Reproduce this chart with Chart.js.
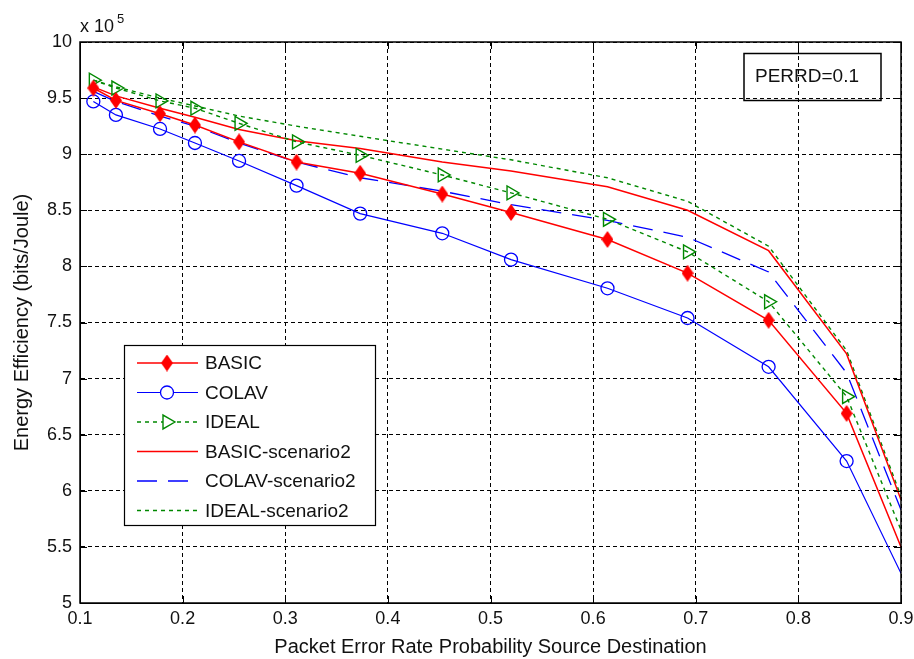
<!DOCTYPE html>
<html>
<head>
<meta charset="utf-8">
<title>Energy Efficiency vs PER</title>
<script src="https://cdn.jsdelivr.net/npm/chart.js@4.4.1/dist/chart.umd.min.js"></script>
<style>
  html, body { margin: 0; padding: 0; background: #fff; }
  #wrap { width: 914px; height: 659px; }
</style>
</head>
<body>
<div id="wrap"><canvas id="effChart" width="914" height="659"></canvas></div>
<script>
// packet error rate (x) and energy efficiency (units of 1e5 bits/Joule)
const perValues = [0.113, 0.135, 0.178, 0.212, 0.255, 0.311, 0.373, 0.453, 0.520, 0.614, 0.692, 0.771, 0.847, 0.9];

const basic = [9.59, 9.48, 9.36, 9.26, 9.11, 8.93, 8.83, 8.645, 8.48, 8.24, 7.94, 7.52, 6.69, 5.50];
const colav = [9.47, 9.35, 9.225, 9.10, 8.94, 8.72, 8.47, 8.295, 8.06, 7.805, 7.54, 7.105, 6.265, 5.265];
const ideal = [9.66, 9.59, 9.475, 9.41, 9.275, 9.11, 8.99, 8.815, 8.655, 8.42, 8.13, 7.685, 6.84, 5.65];
const basicS2 = [9.60, 9.52, 9.41, 9.33, 9.22, 9.12, 9.05, 8.93, 8.85, 8.71, 8.50, 8.14, 7.22, 5.92];
const colavS2 = [9.56, 9.47, 9.34, 9.25, 9.10, 8.93, 8.79, 8.67, 8.55, 8.41, 8.26, 7.95, 7.05, 5.83];
const idealS2 = [9.66, 9.60, 9.50, 9.43, 9.34, 9.25, 9.16, 9.045, 8.95, 8.79, 8.58, 8.18, 7.25, 5.95];

const seriesNames = ["BASIC", "COLAV", "IDEAL", "BASIC-scenario2", "COLAV-scenario2", "IDEAL-scenario2"];
const xTicks = [0.1, 0.2, 0.3, 0.4, 0.5, 0.6, 0.7, 0.8, 0.9];
const yTicks = [5, 5.5, 6, 6.5, 7, 7.5, 8, 8.5, 9, 9.5, 10];
const boxNote = "PERRD=0.1";

const FONT = "'Liberation Sans', Arial, sans-serif";
const RED = "#ff0000", BLUE = "#0000ff", GREEN = "#008800";

function toPoints(ys) {
    return perValues.map((x, i) => ({ x: x, y: ys[i] }));
}

function makeDiamond(w, h, color) {
    const c = document.createElement("canvas");
    c.width = w; c.height = h;
    const g = c.getContext("2d");
    g.fillStyle = color;
    g.beginPath();
    g.moveTo(w / 2, 0); g.lineTo(w, h / 2); g.lineTo(w / 2, h); g.lineTo(0, h / 2);
    g.closePath(); g.fill();
    return c;
}

const diamond = makeDiamond(12, 17, RED);
const lastIdx = perValues.length - 1;
const markerSize = r => (ctx => ctx.dataIndex === lastIdx ? 0 : r);

const datasets = [
    { label: seriesNames[0], data: toPoints(basic), borderColor: RED, borderWidth: 1.5,
      pointStyle: diamond, pointRadius: markerSize(6), pointBackgroundColor: RED, pointBorderColor: RED },
    { label: seriesNames[1], data: toPoints(colav), borderColor: BLUE, borderWidth: 1.2,
      pointStyle: "circle", pointRadius: markerSize(6.5), pointBackgroundColor: "rgba(0,0,0,0)", pointBorderColor: BLUE, pointBorderWidth: 1.3 },
    { label: seriesNames[2], data: toPoints(ideal), borderColor: GREEN, borderWidth: 1.4, borderDash: [4, 4],
      pointStyle: "triangle", pointRotation: 90, pointRadius: markerSize(8), pointBackgroundColor: "rgba(0,0,0,0)", pointBorderColor: GREEN, pointBorderWidth: 1.4 },
    { label: seriesNames[3], data: toPoints(basicS2), borderColor: RED, borderWidth: 1.5, pointRadius: 0 },
    { label: seriesNames[4], data: toPoints(colavS2), borderColor: BLUE, borderWidth: 1.3, borderDash: [20, 11], pointRadius: 0 },
    { label: seriesNames[5], data: toPoints(idealS2), borderColor: GREEN, borderWidth: 1.4, borderDash: [4, 4], pointRadius: 0 }
];

// axes box, inward ticks, exponent, legend box and note box
const decorPlugin = {
    id: "decor",
    afterDatasetsDraw(chart) {
        const ctx = chart.ctx;
        const a = chart.chartArea;
        const xs = chart.scales.x, ys = chart.scales.y;
        ctx.save();
        ctx.setLineDash([]);
        ctx.strokeStyle = "#000";
        ctx.lineWidth = 1;

        // ticks
        ctx.beginPath();
        xTicks.forEach(v => {
            const px = Math.round(xs.getPixelForValue(v)) + 0.5;
            ctx.moveTo(px, a.bottom); ctx.lineTo(px, a.bottom - 7);
            ctx.moveTo(px, a.top); ctx.lineTo(px, a.top + 7);
        });
        yTicks.forEach(v => {
            const py = Math.round(ys.getPixelForValue(v)) + 0.5;
            ctx.moveTo(a.left, py); ctx.lineTo(a.left + 7, py);
            ctx.moveTo(a.right, py); ctx.lineTo(a.right - 7, py);
        });
        ctx.stroke();

        // frame
        ctx.lineWidth = 1.5;
        ctx.strokeRect(a.left, a.top, a.right - a.left, a.bottom - a.top);

        // exponent
        ctx.fillStyle = "#111";
        ctx.textBaseline = "alphabetic";
        ctx.textAlign = "left";
        ctx.font = "18px " + FONT;
        ctx.fillText("x 10", 80, 32);
        ctx.font = "13px " + FONT;
        ctx.fillText("5", 117, 23);

        // note box
        ctx.lineWidth = 1.5;
        ctx.strokeRect(744, 53.5, 137, 47);
        ctx.font = "19px " + FONT;
        ctx.textBaseline = "middle";
        ctx.fillText(boxNote, 755, 77);

        // legend
        const lx = 124, ly = 345, lw = 251, lh = 180;
        ctx.fillStyle = "#fff";
        ctx.fillRect(lx, ly, lw, lh);
        ctx.lineWidth = 1.2;
        ctx.strokeRect(lx + 0.5, ly + 0.5, lw, lh);
        chart.data.datasets.forEach((ds, i) => {
            const y = 363 + i * 29.5;
            ctx.strokeStyle = ds.borderColor;
            ctx.lineWidth = ds.borderWidth;
            ctx.setLineDash(ds.borderDash || []);
            ctx.beginPath();
            ctx.moveTo(137, y); ctx.lineTo(198, y);
            ctx.stroke();
            ctx.setLineDash([]);
            const mx = 167;
            if (ds.pointStyle === diamond) {
                ctx.drawImage(diamond, mx - diamond.width / 2, y - diamond.height / 2);
            } else if (ds.pointStyle === "circle") {
                ctx.fillStyle = "#fff";
                ctx.lineWidth = 1.3;
                ctx.beginPath(); ctx.arc(mx, y, 6.5, 0, Math.PI * 2); ctx.fill(); ctx.stroke();
            } else if (ds.pointStyle === "triangle") {
                const r = 8;
                ctx.fillStyle = "#fff";
                ctx.lineWidth = 1.4;
                ctx.beginPath();
                ctx.moveTo(mx + r, y);
                ctx.lineTo(mx - 0.5 * r, y + 0.866 * r);
                ctx.lineTo(mx - 0.5 * r, y - 0.866 * r);
                ctx.closePath(); ctx.fill(); ctx.stroke();
            }
            ctx.fillStyle = "#111";
            ctx.font = "19px " + FONT;
            ctx.textBaseline = "middle";
            ctx.fillText(ds.label, 205, y + 1);
        });
        ctx.restore();
    }
};

new Chart(document.getElementById("effChart"), {
    type: "line",
    data: { datasets: datasets },
    options: {
        responsive: false,
        animation: false,
        events: [],
        layout: { padding: { top: 42, right: 13, left: 0, bottom: 0 } },
        elements: { line: { tension: 0 } },
        plugins: { legend: { display: false }, tooltip: { enabled: false } },
        scales: {
            x: {
                type: "linear",
                min: 0.1, max: 0.9,
                afterFit: s => { s.height = 56; s.paddingLeft = 0; s.paddingRight = 0; },
                afterBuildTicks: s => { s.ticks = xTicks.map(v => ({ value: v })); },
                ticks: {
                    callback: v => v.toFixed(1),
                    font: { family: FONT, size: 18 },
                    color: "#111",
                    padding: 5,
                    maxRotation: 0,
                    autoSkip: false
                },
                grid: { color: "#000", lineWidth: 1, drawTicks: false },
                border: { display: true, color: "#000", dash: [4, 3] },
                title: {
                    display: true,
                    text: "Packet Error Rate Probability Source Destination",
                    font: { family: FONT, size: 20 },
                    color: "#111",
                    padding: { top: 0, bottom: 0 }
                }
            },
            y: {
                type: "linear",
                min: 5, max: 10,
                afterFit: s => { s.width = 80; s.paddingTop = 0; s.paddingBottom = 0; },
                afterBuildTicks: s => { s.ticks = yTicks.map(v => ({ value: v })); },
                ticks: {
                    callback: v => String(Number(v.toFixed(1))),
                    font: { family: FONT, size: 18 },
                    color: "#111",
                    padding: 8,
                    autoSkip: false
                },
                grid: { color: "#000", lineWidth: 1, drawTicks: false },
                border: { display: true, color: "#000", dash: [4, 3] },
                title: {
                    display: true,
                    text: "Energy Efficiency (bits/Joule)",
                    font: { family: FONT, size: 20 },
                    color: "#111",
                    padding: { top: 10, bottom: 0 }
                }
            }
        }
    },
    plugins: [decorPlugin]
});
</script>
</body>
</html>
